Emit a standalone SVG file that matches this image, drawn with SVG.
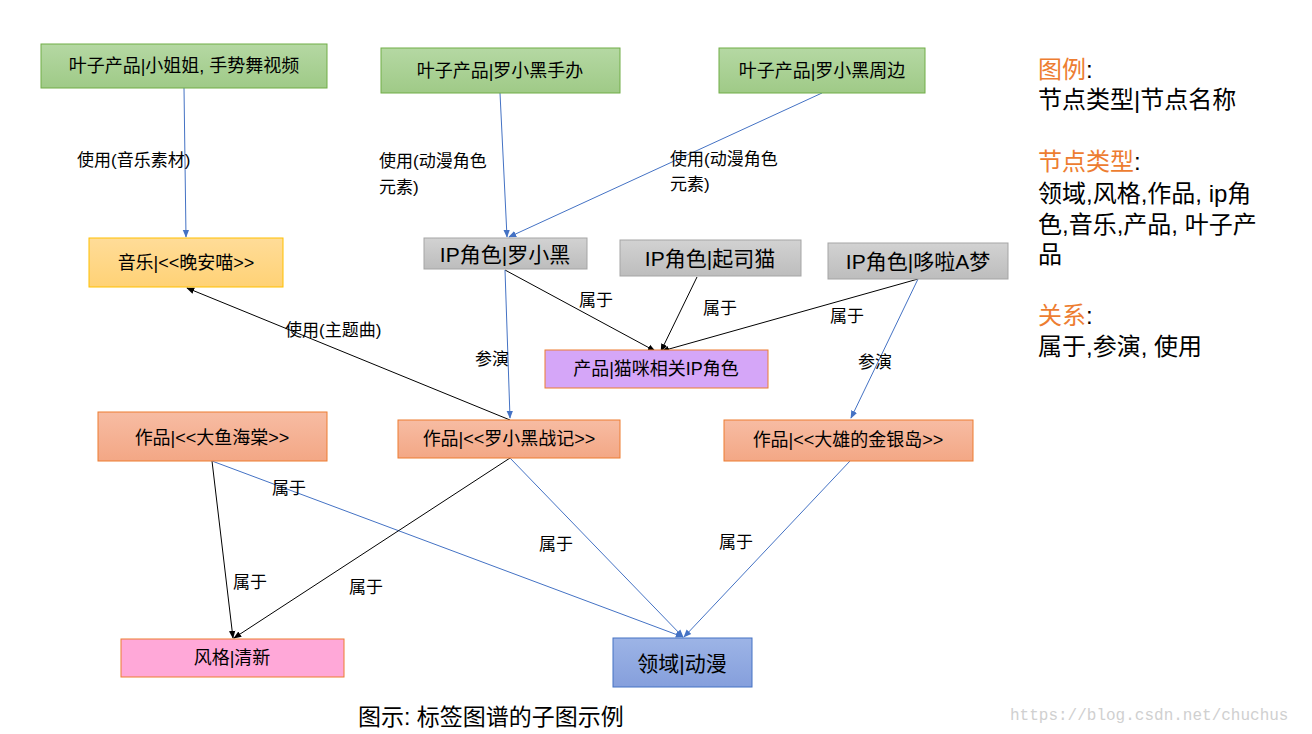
<svg xmlns="http://www.w3.org/2000/svg" width="1312" height="734" viewBox="0 0 1312 734">
<style>
text{font-family:"Liberation Sans","Noto Sans CJK SC",sans-serif;fill:#000}
.n{font-size:18px;text-anchor:middle;dominant-baseline:central}
.l{font-size:17px}
.g{font-size:24px}
.o{fill:#ed7d31}
.blue{stroke:#4472c4;stroke-width:1;fill:none;marker-end:url(#ab)}
.blk{stroke:#000;stroke-width:1;fill:none;marker-end:url(#ak)}
</style>
<defs>
<linearGradient id="gg" x1="0" y1="0" x2="0" y2="1"><stop offset="0" stop-color="#b5d8a3"/><stop offset="1" stop-color="#9fca87"/></linearGradient>
<linearGradient id="gy" x1="0" y1="0" x2="0" y2="1"><stop offset="0" stop-color="#ffdc98"/><stop offset="1" stop-color="#ffd276"/></linearGradient>
<linearGradient id="gr" x1="0" y1="0" x2="0" y2="1"><stop offset="0" stop-color="#d2d2d2"/><stop offset="1" stop-color="#bdbdbd"/></linearGradient>
<linearGradient id="go" x1="0" y1="0" x2="0" y2="1"><stop offset="0" stop-color="#f7bca3"/><stop offset="1" stop-color="#f3a785"/></linearGradient>
<linearGradient id="gb" x1="0" y1="0" x2="0" y2="1"><stop offset="0" stop-color="#9db4e6"/><stop offset="1" stop-color="#859fdc"/></linearGradient>
<marker id="ab" viewBox="0 0 10 10" refX="9" refY="5" markerWidth="8" markerHeight="8" orient="auto"><path d="M0,1L10,5L0,9z" fill="#4472c4"/></marker>
<marker id="ak" viewBox="0 0 10 10" refX="9" refY="5" markerWidth="8" markerHeight="8" orient="auto"><path d="M0,1L10,5L0,9z" fill="#000"/></marker>
</defs>
<rect width="1312" height="734" fill="#fff"/>
<g id="connectors">
<path class="blue" d="M184,88L186,237"/>
<path class="blue" d="M500,93L507,237"/>
<path class="blue" d="M822,93L509,237"/>
<path class="blk" d="M505,270L655,351"/>
<path class="blk" d="M697,277L661,351"/>
<path class="blk" d="M918,279L662,351"/>
<path class="blue" d="M918,279L851,418"/>
<path class="blue" d="M505,270L510,418"/>
<path class="blk" d="M510,420L187,288"/>
<path class="blk" d="M212,461L233,638"/>
<path class="blue" d="M212,461L683,637"/>
<path class="blk" d="M510,458L234,638"/>
<path class="blue" d="M510,458L683,637"/>
<path class="blue" d="M850,461L684,637"/>
<g class="l">
<text x="77" y="166">使用(音乐素材)</text>
<text x="379" y="167">使用(动漫角色</text><text x="379" y="193">元素)</text>
<text x="670" y="165">使用(动漫角色</text><text x="670" y="190">元素)</text>
<text x="285" y="336">使用(主题曲)</text>
<text x="579" y="306">属于</text>
<text x="703" y="314">属于</text>
<text x="830" y="322">属于</text>
<text x="475" y="365">参演</text>
<text x="858" y="368">参演</text>
<text x="272" y="494">属于</text>
<text x="233" y="588">属于</text>
<text x="349" y="593">属于</text>
<text x="539" y="550">属于</text>
<text x="719" y="548">属于</text>
</g>
</g>
<g id="n1"><rect x="41" y="44" width="286" height="44" fill="url(#gg)" stroke="#70ad47"/><text class="n" x="184" y="66">叶子产品|小姐姐, 手势舞视频</text></g>
<g id="n2"><rect x="381" y="48" width="239" height="45" fill="url(#gg)" stroke="#70ad47"/><text class="n" x="500" y="71">叶子产品|罗小黑手办</text></g>
<g id="n3"><rect x="719" y="48" width="206" height="45" fill="url(#gg)" stroke="#70ad47"/><text class="n" x="822" y="71">叶子产品|罗小黑周边</text></g>
<g id="n4"><rect x="89" y="238" width="194" height="49" fill="url(#gy)" stroke="#ffc000"/><text class="n" x="186" y="263">音乐|&lt;&lt;晚安喵&gt;&gt;</text></g>
<g id="n5"><rect x="424" y="238" width="163" height="31" fill="url(#gr)" stroke="#a5a5a5"/><text class="n" x="505" y="254" style="font-size:21px">IP角色|罗小黑</text></g>
<g id="n6"><rect x="620" y="240" width="181" height="36" fill="url(#gr)" stroke="#a5a5a5"/><text class="n" x="710" y="258" style="font-size:21px">IP角色|起司猫</text></g>
<g id="n7"><rect x="828" y="243" width="180" height="36" fill="url(#gr)" stroke="#a5a5a5"/><text class="n" x="918" y="261" style="font-size:21px">IP角色|哆啦A梦</text></g>
<g id="n8"><rect x="545" y="350" width="223" height="38" fill="#d5a6f8" stroke="#ed7d31"/><text class="n" x="656" y="369">产品|猫咪相关IP角色</text></g>
<g id="n9"><rect x="98" y="412" width="229" height="49" fill="url(#go)" stroke="#ed7d31"/><text class="n" x="212" y="438">作品|&lt;&lt;大鱼海棠&gt;&gt;</text></g>
<g id="n10"><rect x="398" y="420" width="222" height="38" fill="url(#go)" stroke="#ed7d31"/><text class="n" x="509" y="439">作品|&lt;&lt;罗小黑战记&gt;&gt;</text></g>
<g id="n11"><rect x="724" y="420" width="249" height="41" fill="url(#go)" stroke="#ed7d31"/><text class="n" x="848" y="440">作品|&lt;&lt;大雄的金银岛&gt;&gt;</text></g>
<g id="n12"><rect x="121" y="639" width="223" height="38" fill="#ffa8d8" stroke="#ed7d31"/><text class="n" x="232" y="658">风格|清新</text></g>
<g id="n13"><rect x="613" y="638" width="139" height="49" fill="url(#gb)" stroke="#4472c4"/><text class="n" x="682" y="663" style="font-size:21px">领域|动漫</text></g>
<g id="legend" class="g">
<text x="1038" y="78"><tspan class="o">图例</tspan>:</text>
<text x="1038" y="108">节点类型|节点名称</text>
<text x="1038" y="170"><tspan class="o">节点类型</tspan>:</text>
<text x="1038" y="202">领域,风格,作品, ip角</text>
<text x="1038" y="233">色,音乐,产品, 叶子产</text>
<text x="1038" y="263">品</text>
<text x="1038" y="324"><tspan class="o">关系</tspan>:</text>
<text x="1038" y="355">属于,参演, 使用</text>
</g>
<text x="358" y="725" style="font-size:23px">图示: 标签图谱的子图示例</text>
<text x="1010" y="720" style="font-family:'Liberation Mono',monospace;font-size:16px;fill:#d0d0d0">https://blog.csdn.net/chuchus</text>
</svg>
